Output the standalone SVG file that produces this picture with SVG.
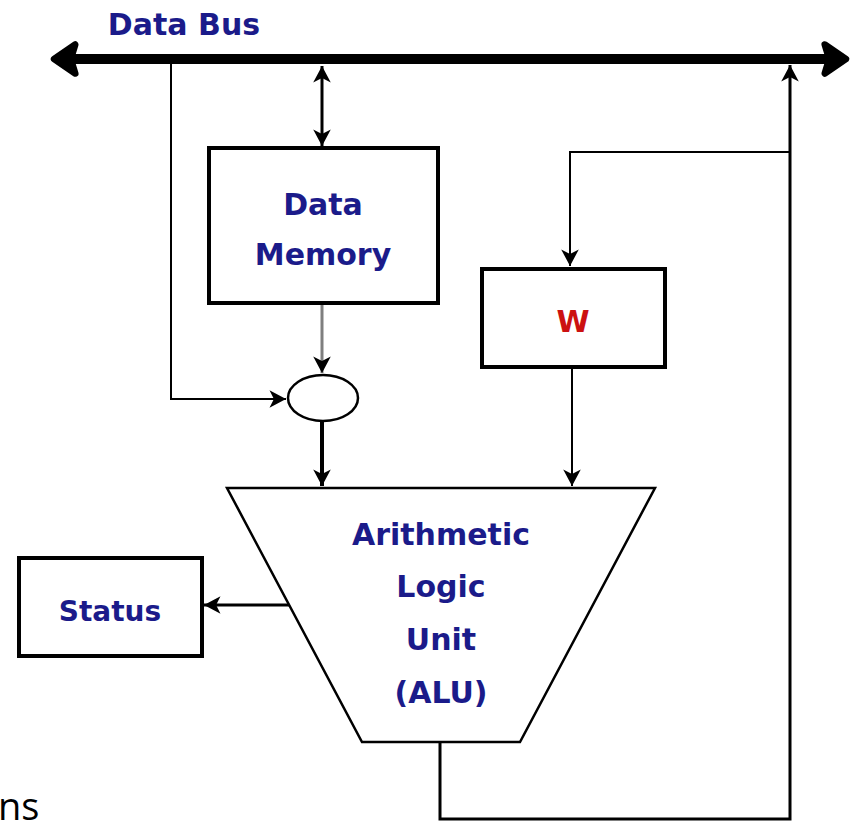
<svg xmlns="http://www.w3.org/2000/svg" width="852" height="822" viewBox="0 0 852 822">
<style>
.box{fill:#fff;stroke:#000;stroke-width:4}
.thin{fill:none;stroke:#000;stroke-width:2}
.lbl{font-family:"DejaVu Sans","Liberation Sans",sans-serif;font-weight:bold;font-size:30px;fill:#1b1b8a;text-anchor:middle}
</style>
<defs>
<marker id="ah" markerUnits="userSpaceOnUse" markerWidth="22" markerHeight="22" viewBox="-18 -10 20 20" refX="0" refY="0" orient="auto">
<path d="M-15,-8 L0,0 L-15,8 L-11,0 Z" fill="#000"/>
</marker>
<marker id="ahs" markerUnits="userSpaceOnUse" markerWidth="22" markerHeight="22" viewBox="-18 -10 20 20" refX="0" refY="0" orient="auto-start-reverse">
<path d="M-15,-8 L0,0 L-15,8 L-11,0 Z" fill="#000"/>
</marker>
<marker id="big" markerUnits="userSpaceOnUse" markerWidth="36" markerHeight="40" viewBox="-26 -18 32 36" refX="-8" refY="0" orient="auto-start-reverse">
<path d="M-19,-13 L0,0 L-19,13 L-15,0 Z" fill="#000" stroke="#000" stroke-width="6" stroke-linejoin="round"/>
</marker>
</defs>

<g id="connectors">
<line x1="63" y1="59" x2="837" y2="59" stroke="#000" stroke-width="10" marker-start="url(#big)" marker-end="url(#big)"/>
<line x1="322" y1="66" x2="322" y2="146" stroke="#000" stroke-width="3" marker-start="url(#ahs)" marker-end="url(#ahs)"/>
<polyline class="thin" points="171,64 171,399 286,399" marker-end="url(#ah)"/>
<line x1="322" y1="305" x2="322" y2="373" stroke="#7f7f7f" stroke-width="3" marker-end="url(#ah)"/>
<line x1="322" y1="422" x2="322" y2="486" stroke="#000" stroke-width="4" marker-end="url(#ah)"/>
<line x1="572" y1="368" x2="572" y2="486" class="thin" marker-end="url(#ah)"/>
<polyline class="thin" points="790,152 570,152 570,266" marker-end="url(#ah)"/>
<polyline fill="none" stroke="#000" stroke-width="3" points="440,742 440,819 790,819 790,65" marker-end="url(#ah)"/>
<line x1="290" y1="605" x2="204" y2="605" stroke="#000" stroke-width="3" marker-end="url(#ah)"/>
</g>

<g id="data-bus-label">
<text x="184" y="35" class="lbl">Data Bus</text>
</g>

<g id="data-memory">
<rect x="209" y="148" width="229" height="155" class="box"/>
<text x="323" y="215" class="lbl">Data</text>
<text x="323" y="265" class="lbl">Memory</text>
</g>

<g id="w-register">
<rect x="482" y="269" width="183" height="98" class="box"/>
<text x="573" y="332" class="lbl" style="fill:#cc1111">W</text>
</g>

<g id="mux">
<ellipse cx="323" cy="398" rx="35" ry="23" fill="#fff" stroke="#000" stroke-width="2.5"/>
</g>

<g id="alu">
<polygon points="227,488 655,488 520,742 362,742" fill="#fff" stroke="#000" stroke-width="2.5"/>
<text x="441" y="545" class="lbl">Arithmetic</text>
<text x="441" y="597" class="lbl">Logic</text>
<text x="441" y="650" class="lbl">Unit</text>
<text x="441" y="703" class="lbl">(ALU)</text>
</g>

<g id="status">
<rect x="19" y="558" width="183" height="98" class="box"/>
<text x="110" y="621" class="lbl" style="font-size:28px">Status</text>
</g>

<text x="-2" y="820" font-family="'Open Sans',sans-serif" font-size="38" fill="#000">ns</text>
</svg>
